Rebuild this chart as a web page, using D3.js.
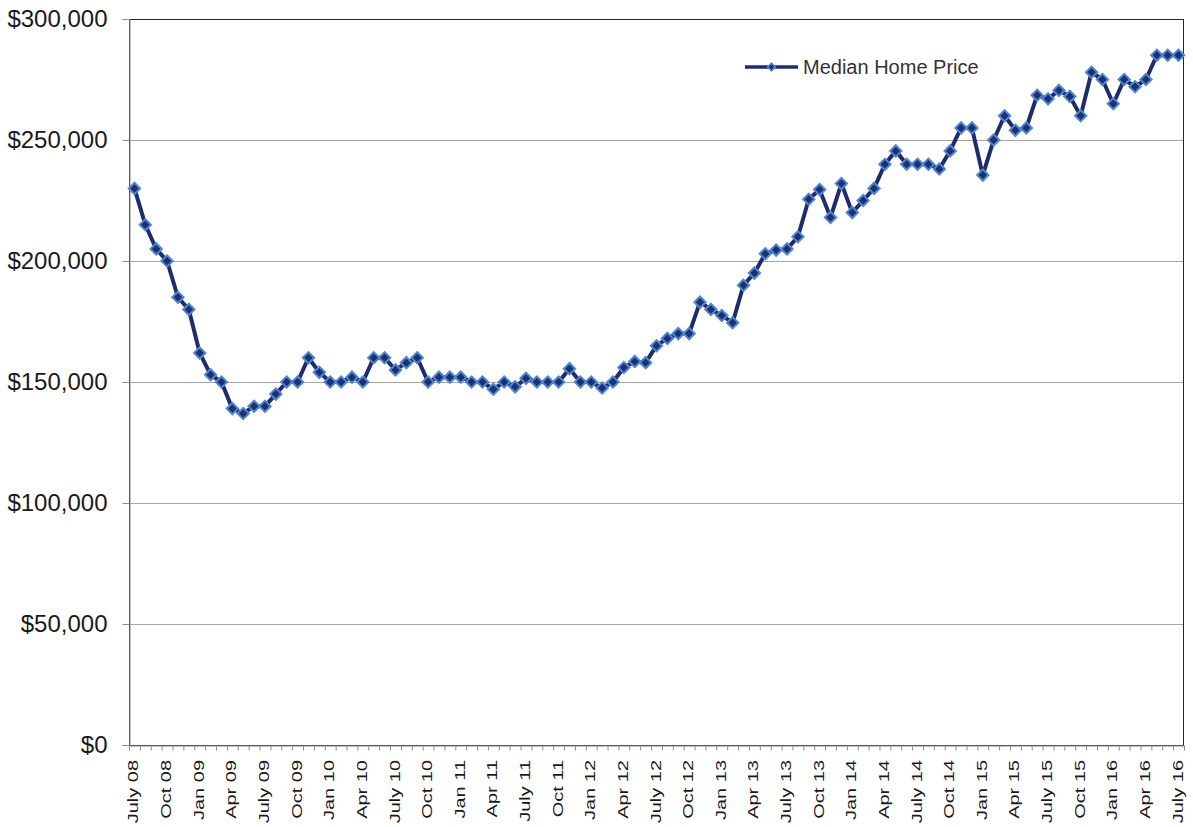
<!DOCTYPE html>
<html>
<head>
<meta charset="utf-8">
<script src="https://cdn.jsdelivr.net/npm/d3@7"></script>
<style>
  body { margin: 0; background: #fff; }
  svg { display: block; font-family: 'Liberation Sans', Arial, sans-serif; }
</style>
</head>
<body>
<svg width="1193" height="827"></svg>
<script>
// median price, one value per month, July 08 .. July 16
var prices = [
  230000, 215000, 205000, 200000, 185000, 180000, 162000, 153000, 150000, 139000,
  137000, 140000, 140000, 145000, 150000, 150000, 160000, 154000, 150000, 150000,
  152000, 150000, 160000, 160000, 155000, 158000, 160000, 150000, 152000, 152000,
  152000, 150000, 150000, 147000, 150000, 148000, 151500, 150000, 150000, 150000,
  155500, 150000, 150000, 147500, 150000, 156000, 158500, 158000, 165000, 168000,
  170000, 170000, 183000, 180000, 177500, 174500, 190000, 195000, 203000, 204500,
  205000, 210000, 225500, 229500, 218000, 232000, 220000, 225000, 230000, 240000,
  245500, 240000, 240000, 240000, 238000, 245500, 255000, 255000, 235500, 250000,
  260000, 254000, 255000, 268500, 267000, 270500, 268000, 260000, 278000, 275000,
  265000, 275000, 272000, 275000, 285000, 285000, 285000
]

// every third month gets a label
var tickLabels = [
  'July 08', 'Oct 08', 'Jan 09', 'Apr 09', 'July 09', 'Oct 09', 'Jan 10', 'Apr 10',
  'July 10', 'Oct 10', 'Jan 11', 'Apr 11', 'July 11', 'Oct 11', 'Jan 12', 'Apr 12',
  'July 12', 'Oct 12', 'Jan 13', 'Apr 13', 'July 13', 'Oct 13', 'Jan 14', 'Apr 14',
  'July 14', 'Oct 14', 'Jan 15', 'Apr 15', 'July 15', 'Oct 15', 'Jan 16', 'Apr 16',
  'July 16'
]

var yTicks = [0, 50000, 100000, 150000, 200000, 250000, 300000]
var yTickLabels = ['$0', '$50,000', '$100,000', '$150,000', '$200,000', '$250,000', '$300,000']
var seriesName = 'Median Home Price'

var svg = d3.select('svg')
var margin = {top: 19, right: 9, bottom: 82, left: 129}
var width = 1193
var height = 827
var lineColor = '#1f2b6c'

var x = d3.scaleBand()
  .domain(d3.range(prices.length))
  .range([margin.left, width - margin.right])
  .padding(0)

var xEdge = d3.scaleLinear()
  .domain([0, prices.length])
  .range([margin.left, width - margin.right])

var y = d3.scaleLinear()
  .domain([0, 300000])
  .range([height - margin.bottom, margin.top])

var cx = i => x(i) + x.bandwidth() / 2

// gridlines
svg.append('g')
  .selectAll('line').data(yTicks.slice(1, -1)).enter().append('line')
  .attr('x1', margin.left)
  .attr('x2', width - margin.right)
  .attr('y1', d => Math.round(y(d)) + 0.5)
  .attr('y2', d => Math.round(y(d)) + 0.5)
  .attr('stroke', '#a6a6a6')
  .attr('stroke-width', 1)

// plot border (top and right show dark)
svg.append('rect')
  .attr('x', margin.left + 0.5)
  .attr('y', margin.top + 0.5)
  .attr('width', width - margin.right - margin.left - 1)
  .attr('height', height - margin.bottom - margin.top)
  .attr('fill', 'none')
  .attr('stroke', '#262626')
  .attr('stroke-width', 1)

// y axis
var yAxis = svg.append('g')
  .attr('transform', `translate(${margin.left + 0.5}, 0)`)
  .call(d3.axisLeft(y)
    .tickValues(yTicks)
    .tickSize(7)
    .tickPadding(15)
    .tickFormat((d, i) => yTickLabels[i]))
yAxis.select('.domain').attr('stroke', '#8c8c8c')
yAxis.selectAll('.tick line').attr('stroke', '#8c8c8c')
yAxis.selectAll('.tick text')
  .attr('font-size', '24px')
  .attr('fill', '#1a1a1a')
  .attr('font-family', "'Liberation Sans', Arial, sans-serif")

// x axis: tick marks on category edges
var xTicks = svg.append('g')
  .attr('transform', `translate(0, ${height - margin.bottom + 0.5})`)
  .call(d3.axisBottom(xEdge)
    .tickValues(d3.range(prices.length + 1))
    .tickSize(5)
    .tickFormat(''))
xTicks.select('.domain').attr('stroke', '#8c8c8c')
xTicks.selectAll('.tick line').attr('stroke', '#8c8c8c')

// x labels, rotated, every third month
svg.append('g')
  .selectAll('text').data(tickLabels).enter().append('text')
  .attr('transform', (d, i) => `translate(${cx(i * 3) - 1}, ${height - margin.bottom + 15}) rotate(-90) scale(1, 0.72)`)
  .attr('text-anchor', 'end')
  .attr('dy', '0.35em')
  .attr('font-size', '20px')
  .attr('fill', '#1a1a1a')
  .text(d => d)

// series line
var line = d3.line()
  .x((d, i) => cx(i))
  .y(d => y(d))

svg.append('path')
  .datum(prices)
  .attr('d', line)
  .attr('fill', 'none')
  .attr('stroke', lineColor)
  .attr('stroke-width', 4)
  .attr('stroke-linejoin', 'round')

var diamond = d3.symbol().type(d3.symbolSquare).size(64)

svg.append('g')
  .selectAll('path').data(prices).enter().append('path')
  .attr('d', diamond)
  .attr('transform', (d, i) => `translate(${cx(i)}, ${y(d)}) rotate(45)`)
  .attr('fill', '#1f2f70')
  .attr('stroke', '#4d87d2')
  .attr('stroke-width', 2)

// legend
var legend = svg.append('g').attr('transform', 'translate(745, 67)')
legend.append('line')
  .attr('x1', 0).attr('x2', 53)
  .attr('stroke', lineColor)
  .attr('stroke-width', 3.5)
legend.append('path')
  .attr('d', d3.symbol().type(d3.symbolSquare).size(30))
  .attr('transform', 'translate(26.5, 0) rotate(45)')
  .attr('fill', '#1f2f70')
  .attr('stroke', '#4d87d2')
  .attr('stroke-width', 1.5)
legend.append('text')
  .attr('x', 58)
  .attr('dy', '0.35em')
  .attr('font-size', '20px')
  .attr('fill', '#333')
  .text(seriesName)
</script>
</body>
</html>
